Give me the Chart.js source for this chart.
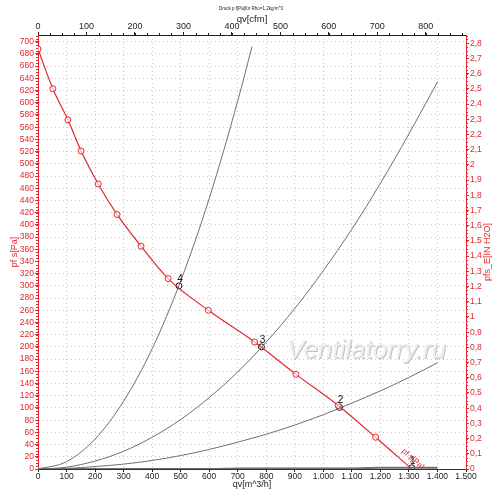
<!DOCTYPE html>
<html>
<head>
<meta charset="utf-8">
<script src="https://cdn.jsdelivr.net/npm/chart.js@4"></script>
<style>html,body{margin:0;padding:0;background:#fff}</style>
</head>
<body>
<canvas id="chart" width="500" height="499"></canvas>
<script>
// fan curve pf_s, q in m^3/h, p in Pa
const fanQ = [0, 52, 105, 151, 211, 277, 361, 456, 597, 759, 904, 1052, 1183, 1310];
const fanP = [688, 623, 572, 521, 467, 417, 365, 312, 260, 208, 155, 104, 52, 0];

// system curves 1..4
const sysQ  = [0, 100, 200, 300, 400, 500, 600, 700, 800, 900, 1000, 1100, 1200, 1300, 1400];
const sys1  = [0, 0, 0, 0, 0, 0, 0, 1, 1, 1, 1, 1, 2, 2, 2];
const sys2  = [0, 1, 4, 8, 14, 22, 32, 44, 57, 72, 89, 108, 128, 150, 174];
const sys3  = [0, 3, 13, 29, 52, 81, 117, 159, 208, 263, 325, 393, 468, 549, 634];
const sys4Q = [0, 100, 200, 300, 400, 500, 600, 700, 750];
const sys4  = [0, 12, 49, 111, 197, 308, 443, 603, 692];

// operating points
const opQ = [1310, 1057, 783, 494];
const opP = [2, 101, 200, 300];
const opNames = ['1', '2', '3', '4'];

// axis ranges
const qMax = 1500, pMax = 711;
const cfmMax = qMax / 1.699;     // top axis
const inH2OMax = pMax / 249.09;  // right axis

const RED = '#e3262b';
const GRAY = '#6f6f6f';
const GRIDC = '#c8c8c8';
const FONT = "'Liberation Sans', Arial, sans-serif";

function xy(qs, ps) { return qs.map((q, i) => ({x: q, y: ps[i]})); }
function onStep(step) {
  return s => { s.ticks = s.ticks.filter(t => Math.abs(t.value / step - Math.round(t.value / step)) < 1e-6); };
}
function thousands(v) {
  return v >= 1000 ? Math.floor(v / 1000) + '.' + String(v % 1000).padStart(3, '0') : String(v);
}

const extras = {
  id: 'extras',
  beforeDatasetsDraw(chart) {
    const c = chart.ctx;
    c.save();
    c.font = "italic 26px " + FONT;
    c.textBaseline = 'alphabetic';
    c.fillStyle = '#c2c2c2';
    c.fillText('Ventilatorry.ru', 288, 359);
    c.fillStyle = '#efefef';
    c.fillText('Ventilatorry.ru', 287, 358);
    c.restore();
  },
  afterDraw(chart) {
    const c = chart.ctx, a = chart.chartArea, s = chart.scales;
    c.save();
    c.lineWidth = 1;
    // minor ticks
    c.strokeStyle = RED;
    for (let v = 0; v <= 710; v += 5) {
      const y = Math.round(s.y.getPixelForValue(v)) + 0.5;
      c.beginPath(); c.moveTo(a.left - 2, y); c.lineTo(a.left, y); c.stroke();
    }
    for (let v = 0; v <= 2.85; v += 0.025) {
      const y = Math.round(s.y2.getPixelForValue(v)) + 0.5;
      c.beginPath(); c.moveTo(a.right, y); c.lineTo(a.right + 2, y); c.stroke();
    }
    c.strokeStyle = '#222';
    for (let v = 0; v <= 880; v += 25) {
      const x = Math.round(s.x2.getPixelForValue(v)) + 0.5;
      c.beginPath(); c.moveTo(x, a.top - 2); c.lineTo(x, a.top); c.stroke();
    }
    // titles
    c.textAlign = 'center';
    c.textBaseline = 'middle';
    c.fillStyle = '#222';
    c.font = "4.5px " + FONT;
    c.fillText('Druck p f[Pa]für Rho=1,2kg/m^3', 251, 9);
    c.font = "9.5px " + FONT;
    c.fillText('qv[cfm]', 252, 19);
    c.font = "9px " + FONT;
    c.fillText('qv[m^3/h]', 252, 485);
    c.fillStyle = RED;
    c.save(); c.translate(15, 252); c.rotate(-Math.PI / 2); c.fillText('pf s[Pa]', 0, 0); c.restore();
    c.save(); c.translate(488, 252); c.rotate(-Math.PI / 2); c.fillText('pfs_E[IN H2O]', 0, 0); c.restore();
    // label on fan curve
    const n = fanQ.length;
    const x1 = s.x.getPixelForValue(fanQ[n - 2]), y1 = s.y.getPixelForValue(fanP[n - 2]);
    const x2 = s.x.getPixelForValue(fanQ[n - 1]), y2 = s.y.getPixelForValue(fanP[n - 1]);
    c.save();
    c.translate(x2 + 1, y2 - 10);
    c.rotate(Math.atan2(y2 - y1, x2 - x1));
    c.font = "8px " + FONT;
    c.fillText('pf s[Pa]', 0, 0);
    c.restore();
    // operating point numbers
    c.fillStyle = '#111';
    c.font = "10px " + FONT;
    opQ.forEach((q, i) => {
      c.fillText(opNames[i], s.x.getPixelForValue(q) + 1, s.y.getPixelForValue(opP[i]) - 7);
    });
    c.restore();
  }
};

const gridOpts = {color: GRIDC, lineWidth: 1, tickLength: 3, tickBorderDash: []};
const tickFont = {family: FONT, size: 8.5};

new Chart(document.getElementById('chart'), {
  type: 'scatter',
  data: {
    datasets: [
      {data: xy(sysQ, sys1), showLine: true, borderColor: GRAY, borderWidth: 2, pointRadius: 0, cubicInterpolationMode: 'monotone'},
      {data: xy(sysQ, sys2), showLine: true, borderColor: GRAY, borderWidth: 1, pointRadius: 0, cubicInterpolationMode: 'monotone'},
      {data: xy(sysQ, sys3), showLine: true, borderColor: GRAY, borderWidth: 1, pointRadius: 0, cubicInterpolationMode: 'monotone'},
      {data: xy(sys4Q, sys4), showLine: true, borderColor: GRAY, borderWidth: 1, pointRadius: 0, cubicInterpolationMode: 'monotone'},
      {data: xy(fanQ, fanP), showLine: true, borderColor: RED, borderWidth: 1.2, cubicInterpolationMode: 'monotone',
       pointRadius: ctx => ctx.dataIndex === fanQ.length - 1 ? 0 : 3,
       pointBorderColor: RED, pointBackgroundColor: 'rgba(255,255,255,0.6)', pointBorderWidth: 1},
      {data: xy(opQ, opP), showLine: false, pointRadius: 3, pointBorderColor: '#111',
       pointBackgroundColor: '#fff', pointBorderWidth: 1}
    ]
  },
  options: {
    responsive: false,
    animation: false,
    layout: {padding: 0},
    plugins: {legend: {display: false}, tooltip: {enabled: false}},
    scales: {
      x: {
        type: 'linear', position: 'bottom', min: 0, max: qMax,
        afterFit: s => { s.height = 30; },
        afterBuildTicks: onStep(100),
        ticks: {stepSize: 100, includeBounds: false, autoSkip: false, maxRotation: 0, padding: 0, color: '#222', font: tickFont,
                callback: v => thousands(v)},
        grid: Object.assign({}, gridOpts, {tickColor: '#222'}),
        border: {color: '#333', width: 1, dash: [1, 3]}
      },
      x2: {
        type: 'linear', position: 'top', min: 0, max: cfmMax,
        afterFit: s => { s.height = 35; },
        afterBuildTicks: onStep(100),
        ticks: {stepSize: 100, includeBounds: false, autoSkip: false, maxRotation: 0, padding: 0, color: '#222',
                font: {family: FONT, size: 9}},
        grid: {drawOnChartArea: false, tickLength: 3, tickColor: '#222'},
        border: {color: '#222', width: 1}
      },
      y: {
        type: 'linear', position: 'left', min: 0, max: pMax,
        afterFit: s => { s.width = 38; },
        afterBuildTicks: onStep(20),
        ticks: {stepSize: 20, includeBounds: false, autoSkip: false, padding: 1, color: RED, font: tickFont},
        grid: Object.assign({}, gridOpts, {tickColor: RED}),
        border: {color: RED, width: 1, dash: [1, 3]}
      },
      y2: {
        type: 'linear', position: 'right', min: 0, max: inH2OMax,
        afterFit: s => { s.width = 34; },
        afterBuildTicks: onStep(0.1),
        ticks: {stepSize: 0.1, includeBounds: false, autoSkip: false, padding: 1, color: RED, font: tickFont,
                callback: v => String(Math.round(v * 10) / 10).replace('.', ',')},
        grid: {drawOnChartArea: false, tickLength: 3, tickColor: RED},
        border: {color: RED, width: 1}
      }
    }
  },
  plugins: [extras]
});
</script>
</body>
</html>
